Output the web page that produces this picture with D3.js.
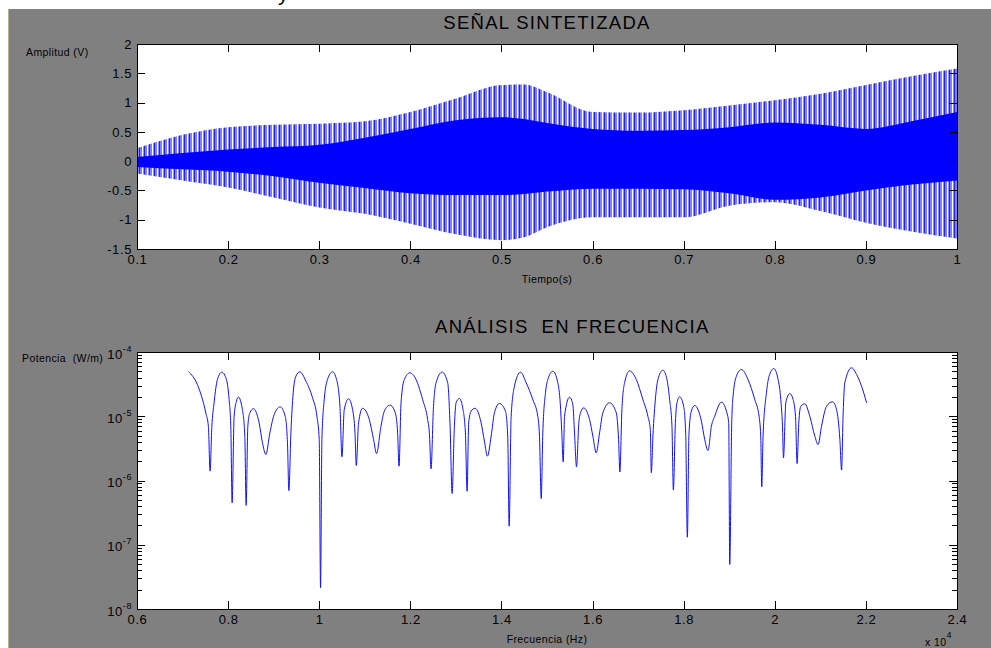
<!DOCTYPE html>
<html>
<head>
<meta charset="utf-8">
<script src="https://cdn.jsdelivr.net/npm/d3@7"></script>
<style>
  html, body { margin: 0; padding: 0; background: #ffffff; }
  svg { display: block; }
  text { font-family: "Liberation Sans", Arial, sans-serif; fill: #000; }
  .tick text { font-family: "Liberation Sans", Arial, sans-serif; font-size: 13px; letter-spacing: 0.6px; }
  .tick line { stroke: #000; shape-rendering: crispEdges; }
  .title { font-size: 18.5px; letter-spacing: 1.3px; }
  .lab { font-size: 10.5px; letter-spacing: 0.4px; white-space: pre; }
</style>
</head>
<body>
<svg id="chart" width="991" height="648"></svg>
<script>
// ---- Synthesized signal: envelope of the sampled waveform ----
// time (s), outer peaks and dense-core limits (V)
const timeS      = [0.10, 0.15, 0.20, 0.25, 0.30, 0.35, 0.40, 0.45, 0.50, 0.525, 0.55, 0.60, 0.65, 0.70, 0.75, 0.80, 0.85, 0.90, 0.95, 1.00];
const peakUpper  = [0.22, 0.45, 0.58, 0.62, 0.64, 0.68, 0.84, 1.07, 1.30, 1.31, 1.18, 0.84, 0.83, 0.87, 0.95, 1.04, 1.15, 1.30, 1.45, 1.58];
const peakLower  = [-0.21, -0.33, -0.45, -0.62, -0.79, -0.90, -1.07, -1.25, -1.35, -1.30, -1.13, -0.96, -0.96, -0.96, -0.76, -0.70, -0.85, -1.05, -1.20, -1.32];
const coreUpper  = [0.07, 0.14, 0.20, 0.24, 0.28, 0.40, 0.55, 0.70, 0.75, 0.72, 0.65, 0.55, 0.52, 0.53, 0.58, 0.66, 0.62, 0.55, 0.68, 0.84];
const coreLower  = [-0.10, -0.14, -0.18, -0.26, -0.37, -0.46, -0.55, -0.58, -0.58, -0.56, -0.52, -0.47, -0.47, -0.48, -0.55, -0.66, -0.62, -0.50, -0.40, -0.33];

// ---- Power spectrum ----
const freqHz = [
  7130, 7325, 7510, 7567, 7604, 7642, 7692, 7765, 7862, 7963,
  8022, 8059, 8088, 8132, 8182, 8226, 8314, 8367, 8396, 8433,
  8477, 8556, 8681, 8754, 8829, 8916, 9011, 9143, 9253, 9303,
  9334, 9378, 9429, 9488, 9576, 9708, 9853, 9949, 10000, 10029,
  10059, 10110, 10182, 10292, 10380, 10455, 10499, 10549, 10644, 10732,
  10785, 10813, 10864, 10952, 11099, 11193, 11259, 11356, 11429, 11554,
  11670, 11721, 11752, 11796, 11868, 11993, 12125, 12270, 12380, 12418,
  12455, 12505, 12565, 12697, 12820, 12873, 12917, 12967, 13004, 13077,
  13150, 13209, 13246, 13281, 13334, 13422, 13554, 13626, 13692, 13774,
  13846, 13956, 14088, 14138, 14169, 14213, 14286, 14418, 14543, 14688,
  14798, 14835, 14873, 14908, 14967, 15018, 15128, 15238, 15290, 15325,
  15356, 15385, 15495, 15567, 15604, 15648, 15699, 15736, 15802, 15934,
  16007, 16081, 16154, 16226, 16374, 16521, 16571, 16600, 16644, 16703,
  16813, 16960, 17105, 17215, 17268, 17290, 17325, 17385, 17435, 17545,
  17633, 17692, 17743, 17774, 17818, 17853, 17912, 18000, 18044, 18081,
  18117, 18169, 18242, 18389, 18462, 18534, 18609, 18681, 18829, 18938,
  18989, 19011, 19055, 19084, 19158, 19268, 19413, 19560, 19655, 19692,
  19714, 19743, 19817, 19875, 19978, 20073, 20132, 20169, 20191, 20242,
  20330, 20402, 20455, 20490, 20527, 20571, 20659, 20769, 20879, 20951,
  21026, 21136, 21268, 21356, 21429, 21466, 21501, 21538, 21686, 21796,
  21905, 22015
];
const powerWm = [
  4.92e-5, 3.12e-5, 1.13e-5, 7.0e-6, 1.40e-6, 6.7e-6, 1.62e-5, 3.73e-5, 4.86e-5, 3.73e-5,
  1.82e-5, 7.0e-6, 4.5e-7, 1.0e-5, 1.71e-5, 1.98e-5, 1.27e-5, 4.9e-6, 4.1e-7, 7.0e-6,
  1.13e-5, 1.31e-5, 7.9e-6, 3.87e-6, 2.54e-6, 5.5e-6, 1.06e-5, 1.40e-5, 1.0e-5, 3.87e-6,
  6.98e-7, 5.5e-6, 2.32e-5, 4.2e-5, 4.92e-5, 3.52e-5, 1.94e-5, 1.0e-5, 4.35e-6, 2.14e-8,
  4.35e-6, 1.82e-5, 3.73e-5, 4.92e-5, 3.73e-5, 1.43e-5, 2.34e-6, 1.27e-5, 1.87e-5, 1.27e-5,
  5.5e-6, 1.71e-6, 7.9e-6, 1.33e-5, 8.9e-6, 4.35e-6, 2.63e-6, 7.0e-6, 1.2e-5, 1.49e-5,
  1.13e-5, 5.5e-6, 1.67e-6, 1.62e-5, 3.73e-5, 4.74e-5, 3.73e-5, 1.82e-5, 8.9e-6, 5.5e-6,
  1.52e-6, 1.27e-5, 3.32e-5, 4.86e-5, 3.32e-5, 7.0e-6, 6.28e-7, 7.0e-6, 1.62e-5, 1.89e-5,
  1.35e-5, 5.5e-6, 6.8e-7, 7.9e-6, 1.2e-5, 1.33e-5, 7.9e-6, 4.1e-6, 2.39e-6, 4.9e-6,
  1.13e-5, 1.58e-5, 1.2e-5, 4.9e-6, 1.95e-7, 1.0e-5, 2.94e-5, 4.86e-5, 3.32e-5, 1.82e-5,
  1.0e-5, 4.9e-6, 5.25e-7, 5.5e-6, 2.32e-5, 3.73e-5, 5.02e-5, 3.32e-5, 1.62e-5, 5.5e-6,
  1.95e-6, 1.0e-5, 1.98e-5, 1.52e-5, 5.5e-6, 1.63e-6, 7.9e-6, 1.13e-5, 1.35e-5, 8.9e-6,
  4.9e-6, 2.7e-6, 5.5e-6, 1.13e-5, 1.62e-5, 1.13e-5, 4.35e-6, 1.36e-6, 1.27e-5, 3.32e-5,
  5.09e-5, 3.73e-5, 1.82e-5, 1.0e-5, 6.2e-6, 1.32e-6, 4.9e-6, 2.05e-5, 3.73e-5, 5.21e-5,
  3.73e-5, 1.82e-5, 7.0e-6, 7.1e-7, 7.9e-6, 1.62e-5, 2.01e-5, 1.43e-5, 5.5e-6, 1.31e-7,
  5.5e-6, 1.2e-5, 1.47e-5, 8.4e-6, 4.35e-6, 2.93e-6, 7.0e-6, 1.0e-5, 1.66e-5, 1.2e-5,
  7.9e-6, 4.93e-8, 7.9e-6, 2.05e-5, 4.2e-5, 5.34e-5, 3.73e-5, 1.82e-5, 1.0e-5, 4.9e-6,
  7.98e-7, 4.9e-6, 2.32e-5, 4.2e-5, 5.53e-5, 3.73e-5, 1.82e-5, 7.0e-6, 2.25e-6, 1.62e-5,
  2.26e-5, 1.82e-5, 1.0e-5, 1.84e-6, 7.9e-6, 1.43e-5, 1.56e-5, 1.0e-5, 4.9e-6, 3.63e-6,
  7.0e-6, 1.43e-5, 1.68e-5, 1.27e-5, 4.35e-6, 1.45e-6, 1.13e-5, 3.32e-5, 5.68e-5, 4.47e-5,
  2.94e-5, 1.62e-5
];

// ---- Ticks ----
const timeTicks      = [0.1, 0.2, 0.3, 0.4, 0.5, 0.6, 0.7, 0.8, 0.9, 1];
const timeTickLabels = ["0.1", "0.2", "0.3", "0.4", "0.5", "0.6", "0.7", "0.8", "0.9", "1"];
const ampTicks       = [2, 1.5, 1, 0.5, 0, -0.5, -1, -1.5];
const ampTickLabels  = ["2", "1.5", "1", "0.5", "0", "-0.5", "-1", "-1.5"];
const freqTicks      = [6000, 8000, 10000, 12000, 14000, 16000, 18000, 20000, 22000, 24000];
const freqTickLabels = ["0.6", "0.8", "1", "1.2", "1.4", "1.6", "1.8", "2", "2.2", "2.4"];
const powerExps      = [-4, -5, -6, -7, -8];

// ---- Figure ----
const svg = d3.select("#chart");
const defs = svg.append("defs");

// figure background
svg.append("rect").attr("x", 0).attr("y", 0).attr("width", 991).attr("height", 648).attr("fill", "#ffffff");
svg.append("rect").attr("x", 8).attr("y", 9).attr("width", 983).attr("height", 639).attr("fill", "#808080");
svg.append("line").attr("x1", 8.5).attr("x2", 8.5).attr("y1", 9).attr("y2", 648)
  .attr("stroke", "#b4b48a").attr("stroke-width", 1);
svg.append("text").attr("x", 278).attr("y", 0.5).attr("font-size", 21).text("y");

// vertical stripe texture for the sparse part of the waveform
const pat = defs.append("pattern").attr("id", "stripes").attr("patternUnits", "userSpaceOnUse")
  .attr("x", 0).attr("y", 0).attr("width", 5).attr("height", 8);
[[0, 2, "#8080ff"], [2, 1, "#ffffff"], [3, 1, "#8c8cff"], [4, 1, "#2020ff"]].forEach(s => {
  pat.append("rect").attr("x", s[0]).attr("y", 0).attr("width", s[1]).attr("height", 8)
    .attr("fill", s[2]).attr("shape-rendering", "crispEdges");
});

function frame(g, L, T, R, B) {
  g.append("rect").attr("x", L + 0.5).attr("y", T + 0.5).attr("width", R - L).attr("height", B - T)
    .attr("fill", "none").attr("stroke", "#000").attr("shape-rendering", "crispEdges");
}
function cleanAxis(sel) {
  sel.select(".domain").remove();
  sel.attr("font-family", null).attr("font-size", null);
}

// ================= Top panel: time signal =================
const L1 = 137, R1 = 957, T1 = 44, B1 = 249;
const xT = d3.scaleLinear().domain([0.1, 1]).range([L1, R1]);
const yT = d3.scaleLinear().domain([-1.5, 2]).range([B1, T1]);

const panelTop = svg.append("g");
panelTop.append("rect").attr("x", L1).attr("y", T1).attr("width", R1 - L1 + 1).attr("height", B1 - T1).attr("fill", "#ffffff");
defs.append("clipPath").attr("id", "clipTop").append("rect")
  .attr("x", L1).attr("y", T1).attr("width", R1 - L1 + 1).attr("height", B1 - T1);

const idx = d3.range(timeS.length);
const outerArea = d3.area()
  .x(i => xT(timeS[i])).y0(i => yT(peakLower[i])).y1(i => yT(peakUpper[i]))
  .curve(d3.curveMonotoneX);
const coreArea = d3.area()
  .x(i => xT(timeS[i])).y0(i => yT(coreLower[i])).y1(i => yT(coreUpper[i]))
  .curve(d3.curveMonotoneX);

const sig = panelTop.append("g").attr("clip-path", "url(#clipTop)");
sig.append("path").datum(idx).attr("d", outerArea).attr("fill", "url(#stripes)");
sig.append("path").datum(idx).attr("d", coreArea).attr("fill", "#0000ff");

panelTop.append("g").attr("transform", `translate(0,${B1})`)
  .call(d3.axisBottom(xT).tickValues(timeTicks).tickFormat((d, i) => timeTickLabels[i])
    .tickSizeInner(-8).tickSizeOuter(0).tickPadding(6)).call(cleanAxis);
panelTop.append("g").attr("transform", `translate(0,${T1})`)
  .call(d3.axisTop(xT).tickValues(timeTicks).tickFormat("").tickSizeInner(-8).tickSizeOuter(0)).call(cleanAxis);
panelTop.append("g").attr("transform", `translate(${L1},0)`)
  .call(d3.axisLeft(yT).tickValues(ampTicks).tickFormat((d, i) => ampTickLabels[i])
    .tickSizeInner(-8).tickSizeOuter(0).tickPadding(5)).call(cleanAxis);
panelTop.append("g").attr("transform", `translate(${R1},0)`)
  .call(d3.axisRight(yT).tickValues(ampTicks).tickFormat("").tickSizeInner(-8).tickSizeOuter(0)).call(cleanAxis);
frame(panelTop, L1, T1, R1, B1);

panelTop.append("text").attr("class", "title").attr("x", 547).attr("y", 29).attr("text-anchor", "middle")
  .text("SEÑAL SINTETIZADA");
panelTop.append("text").attr("class", "lab").attr("x", 26).attr("y", 56).text("Amplitud (V)");
panelTop.append("text").attr("class", "lab").attr("x", 547).attr("y", 283).attr("text-anchor", "middle").text("Tiempo(s)");

// ================= Bottom panel: spectrum =================
const L2 = 137, R2 = 957, T2 = 352, B2 = 609;
const xB = d3.scaleLinear().domain([6000, 24000]).range([L2, R2]);
const yB = d3.scaleLog().domain([1e-8, 1e-4]).range([B2, T2]);

const panelBot = svg.append("g");
panelBot.append("rect").attr("x", L2).attr("y", T2).attr("width", R2 - L2 + 1).attr("height", B2 - T2).attr("fill", "#ffffff");
defs.append("clipPath").attr("id", "clipBot").append("rect")
  .attr("x", L2).attr("y", T2).attr("width", R2 - L2 + 1).attr("height", B2 - T2);

const spectrum = d3.line()
  .x(i => xB(freqHz[i])).y(i => yB(powerWm[i]))
  .curve(d3.curveMonotoneX);
panelBot.append("g").attr("clip-path", "url(#clipBot)")
  .append("path").datum(d3.range(freqHz.length)).attr("d", spectrum)
  .attr("fill", "none").attr("stroke", "#1010ff").attr("stroke-width", 1);

const majorP = powerExps.map(e => Math.pow(10, e));
const minorP = [];
powerExps.slice(1).forEach(e => { for (let m = 2; m <= 9; m++) minorP.push(m * Math.pow(10, e)); });

panelBot.append("g").attr("transform", `translate(0,${B2})`)
  .call(d3.axisBottom(xB).tickValues(freqTicks).tickFormat((d, i) => freqTickLabels[i])
    .tickSizeInner(-8).tickSizeOuter(0).tickPadding(6)).call(cleanAxis);
panelBot.append("g").attr("transform", `translate(0,${T2})`)
  .call(d3.axisTop(xB).tickValues(freqTicks).tickFormat("").tickSizeInner(-8).tickSizeOuter(0)).call(cleanAxis);
[[L2, d3.axisLeft], [R2, d3.axisRight]].forEach(([xp, ax]) => {
  panelBot.append("g").attr("transform", `translate(${xp},0)`)
    .call(ax(yB).tickValues(majorP).tickFormat("").tickSizeInner(-8).tickSizeOuter(0)).call(cleanAxis);
  panelBot.append("g").attr("transform", `translate(${xp},0)`)
    .call(ax(yB).tickValues(minorP).tickFormat("").tickSizeInner(-5).tickSizeOuter(0)).call(cleanAxis);
});
frame(panelBot, L2, T2, R2, B2);

// decade labels 10^n
const decLab = panelBot.append("g").selectAll("text").data(powerExps).join("text")
  .attr("x", 132).attr("y", e => yB(Math.pow(10, e)) + 6.5)
  .attr("text-anchor", "end").attr("font-size", 13).attr("letter-spacing", 0.6);
decLab.append("tspan").text("10");
decLab.append("tspan").attr("dy", -7).attr("font-size", 9).text(e => String(e));

panelBot.append("text").attr("class", "title").attr("x", 435).attr("y", 333).text("ANÁLISIS  EN FRECUENCIA")
  .style("white-space", "pre");
panelBot.append("text").attr("class", "lab").attr("x", 22).attr("y", 362).text("Potencia  (W/m)");
panelBot.append("text").attr("class", "lab").attr("x", 547).attr("y", 643).attr("text-anchor", "middle").text("Frecuencia (Hz)");
const mult = panelBot.append("text").attr("class", "lab").attr("x", 925).attr("y", 646);
mult.append("tspan").text("x 10");
mult.append("tspan").attr("dy", -8).attr("font-size", 9).text("4");
</script>
</body>
</html>
